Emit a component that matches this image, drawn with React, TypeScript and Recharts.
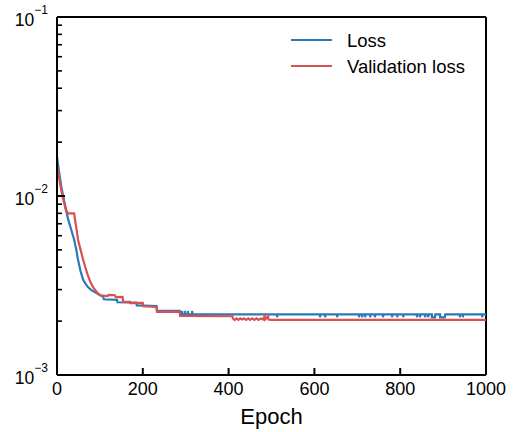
import React from 'react';
import { LineChart, Line, XAxis, YAxis, ReferenceLine, Label } from 'recharts';

// [epoch, loss]
const lossPoints: [number, number][] = [
  [0, 0.0166], [5, 0.0135], [10, 0.0113], [14, 0.0101], [20, 0.0086], [26, 0.0074],
  [33, 0.0065], [40, 0.0057], [45, 0.005], [49, 0.0044], [55, 0.0038], [61, 0.0034],
  [66, 0.00325], [72, 0.0031], [80, 0.00298], [89, 0.0029], [100, 0.0028], [108, 0.00274],
  [109, 0.00265], [140, 0.00263], [141, 0.00255], [185, 0.00254], [186, 0.00245],
  [232, 0.00243], [233, 0.00229], [286, 0.00228], [287, 0.00218],
  [291, 0.00218], [291, 0.00228], [292, 0.00218], [298, 0.00218], [298, 0.00228], [299, 0.00218],
  [305, 0.00218], [305, 0.00228], [306, 0.00218], [315, 0.00218], [315, 0.00228], [316, 0.00218],
  [513, 0.00218], [513, 0.0021], [514, 0.00218],
  [613, 0.00218], [613, 0.0021], [614, 0.00218], [625, 0.00218], [625, 0.0021], [626, 0.00218],
  [653, 0.00218], [653, 0.0021], [654, 0.00218], [704, 0.00218], [704, 0.0021], [705, 0.00218],
  [711, 0.00218], [711, 0.0021], [712, 0.00218], [718, 0.00218], [718, 0.0021], [719, 0.00218],
  [730, 0.00218], [730, 0.0021], [731, 0.00218], [741, 0.00218], [741, 0.0021], [742, 0.00218],
  [760, 0.00218], [760, 0.0021], [761, 0.00218], [781, 0.00218], [781, 0.0021], [782, 0.00218],
  [793, 0.00218], [793, 0.0021], [794, 0.00218], [807, 0.00218], [807, 0.0021], [808, 0.00218],
  [839, 0.00218], [839, 0.0021], [840, 0.00218], [846, 0.00218], [846, 0.0021], [847, 0.00218],
  [858, 0.00218], [858, 0.0021], [859, 0.00218], [865, 0.00218], [865, 0.0021], [866, 0.00218],
  [874, 0.00218], [874, 0.0021], [877, 0.0021], [881, 0.0021], [882, 0.00218],
  [893, 0.00218], [893, 0.0021], [897, 0.0021], [900, 0.0021], [904, 0.0021], [905, 0.00218],
  [939, 0.00218], [939, 0.0021], [940, 0.00218], [946, 0.00218], [946, 0.0021], [947, 0.00218],
  [991, 0.00218], [991, 0.0021], [992, 0.00218], [1000, 0.00218],
];

// [epoch, validation loss]
const valLossPoints: [number, number][] = [
  [0, 0.0145], [2, 0.014], [7, 0.0118], [12, 0.0101], [17, 0.0091], [21, 0.0083],
  [26, 0.008], [40, 0.008], [42, 0.0074], [46, 0.0064], [49, 0.0057], [55, 0.005],
  [61, 0.0044], [66, 0.004], [72, 0.0036], [78, 0.0033], [84, 0.0031], [92, 0.00292],
  [100, 0.00279], [118, 0.00276], [120, 0.0028], [135, 0.00279], [137, 0.00272], [153, 0.00273],
  [154, 0.00256], [170, 0.00256], [171, 0.00252], [200, 0.00253], [201, 0.00242], [232, 0.0024],
  [233, 0.00225], [286, 0.00225], [287, 0.00214], [409, 0.00213],
  [410, 0.00207], [414, 0.00203], [418, 0.00207], [423, 0.00203], [427, 0.00207], [432, 0.00204],
  [436, 0.00207], [441, 0.00203], [446, 0.00207], [450, 0.00203], [455, 0.00207], [460, 0.00203],
  [465, 0.00207], [470, 0.00203], [475, 0.00207], [480, 0.00204], [484, 0.00213], [485, 0.00204],
  [492, 0.00213], [493, 0.00204], [500, 0.00203], [1000, 0.00203],
];

const xTicks = [0, 200, 400, 600, 800, 1000];
const yTicks = [
  0.001, 0.002, 0.003, 0.004, 0.005, 0.006, 0.007, 0.008, 0.009,
  0.01, 0.02, 0.03, 0.04, 0.05, 0.06, 0.07, 0.08, 0.09, 0.1,
];

const FONT = '"Liberation Sans", Arial, sans-serif';
const BLUE = '#2a7ab8';
const RED = '#d85151';

const lossData = lossPoints.map(([epoch, value]) => ({ epoch, value }));
const valLossData = valLossPoints.map(([epoch, value]) => ({ epoch, value }));

const XTick = ({ x, y, payload }: any) => (
  <g>
    <line x1={x} x2={x} y1={y} y2={y - 7} stroke="#000" strokeWidth={2} />
    <text x={x} y={y + 20} textAnchor="middle" fontFamily={FONT} fontSize={18} fill="#000">
      {payload.value}
    </text>
  </g>
);

const YTick = ({ x, y, payload }: any) => {
  const lg = Math.log10(payload.value);
  const exp = Math.round(lg);
  const major = Math.abs(lg - exp) < 1e-6;
  return (
    <g>
      <line x1={x} x2={x + (major ? 8 : 5)} y1={y} y2={y} stroke="#000" strokeWidth={major ? 2 : 1.6} />
      {major && (
        <text x={x - 9} y={y + 9} textAnchor="end" fontFamily={FONT} fill="#000">
          <tspan fontSize={17.5}>10</tspan>
          <tspan fontSize={12} dy={-12}>{'\u2212' + -exp}</tspan>
        </text>
      )}
    </g>
  );
};

const EpochLabel = ({ viewBox }: any) => (
  <text
    x={viewBox.x + viewBox.width / 2}
    y={viewBox.y + 49}
    textAnchor="middle"
    fontFamily={FONT}
    fontSize={22}
    fill="#000"
  >
    Epoch
  </text>
);

const App = () => {
  return (
    <div style={{ position: 'relative', width: 513, height: 432, background: '#fff' }}>
      <style>{'body{margin:0}'}</style>
      <LineChart width={513} height={432} margin={{ top: 17, right: 27, left: 0, bottom: 0 }}>
        <XAxis
          dataKey="epoch"
          type="number"
          domain={[0, 1000]}
          ticks={xTicks}
          interval={0}
          height={57}
          tickSize={0}
          tickMargin={0}
          tickLine={false}
          tick={<XTick />}
          axisLine={{ stroke: '#000', strokeWidth: 2 }}
          allowDataOverflow
        >
          <Label content={<EpochLabel />} />
        </XAxis>
        <YAxis
          dataKey="value"
          type="number"
          scale="log"
          domain={[0.001, 0.1]}
          ticks={yTicks}
          interval={0}
          width={57}
          tickSize={0}
          tickMargin={0}
          tickLine={false}
          tick={<YTick />}
          axisLine={{ stroke: '#000', strokeWidth: 2 }}
          allowDataOverflow
        />
        <ReferenceLine y={0.1} stroke="#000" strokeWidth={2} />
        <ReferenceLine x={1000} stroke="#000" strokeWidth={2} />
        <Line
          data={lossData}
          dataKey="value"
          type="linear"
          stroke={BLUE}
          strokeWidth={2.2}
          dot={false}
          isAnimationActive={false}
        />
        <Line
          data={valLossData}
          dataKey="value"
          type="linear"
          stroke={RED}
          strokeWidth={2.2}
          dot={false}
          isAnimationActive={false}
        />
      </LineChart>
      <svg
        width={513}
        height={432}
        style={{ position: 'absolute', left: 0, top: 0, pointerEvents: 'none' }}
      >
        <line x1={291} x2={332} y1={40} y2={40} stroke={BLUE} strokeWidth={2} />
        <text x={347} y={47} fontFamily={FONT} fontSize={18.5} fill="#000">Loss</text>
        <line x1={291} x2={332} y1={66} y2={66} stroke={RED} strokeWidth={2} />
        <text x={347} y={73} fontFamily={FONT} fontSize={18.5} fill="#000">Validation loss</text>
      </svg>
    </div>
  );
};

export default App;
